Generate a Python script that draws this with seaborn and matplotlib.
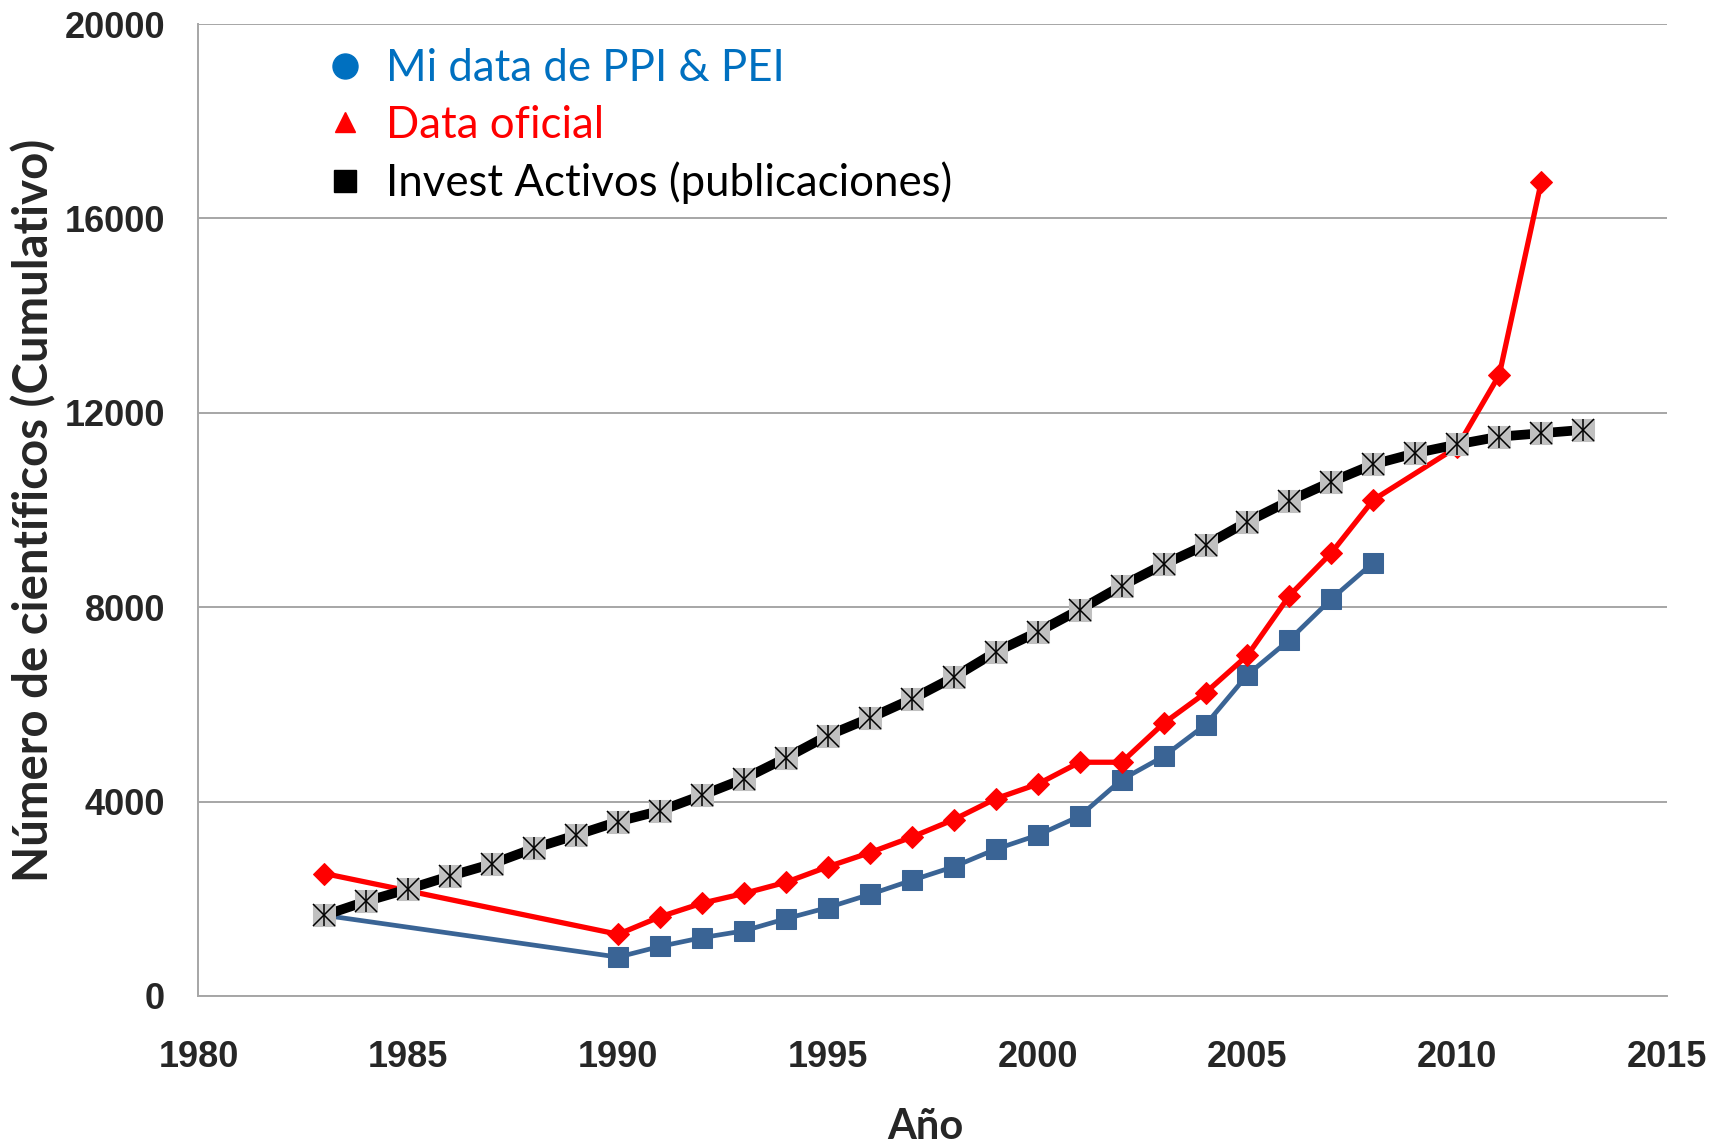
import matplotlib
matplotlib.use("Agg")
import matplotlib.pyplot as plt
from matplotlib.lines import Line2D
from matplotlib.ticker import MultipleLocator
import seaborn as sns

# Invest Activos (publicaciones), 1983-2013
years_activos = list(range(1983, 2014))
activos = [1660, 1950, 2200, 2470, 2720, 3040, 3310, 3590, 3810, 4130,
           4470, 4900, 5360, 5720, 6110, 6560, 7080, 7490, 7950, 8440,
           8880, 9280, 9760, 10190, 10580, 10940, 11170, 11350, 11510, 11580,
           11650]

# Data oficial
years_oficial = [1983, 1990, 1991, 1992, 1993, 1994, 1995, 1996, 1997, 1998,
                 1999, 2000, 2001, 2002, 2003, 2004, 2005, 2006, 2007, 2008,
                 2010, 2011, 2012]
oficial = [2520, 1270, 1630, 1910, 2110, 2340, 2660, 2950, 3270, 3630,
           4060, 4360, 4810, 4810, 5610, 6240, 7010, 8240, 9120, 10210,
           11300, 12780, 16750]

# Mi data de PPI & PEI
years_mine = [1983, 1990, 1991, 1992, 1993, 1994, 1995, 1996, 1997, 1998,
              1999, 2000, 2001, 2002, 2003, 2004, 2005, 2006, 2007, 2008]
mine = [1660, 800, 1020, 1200, 1340, 1590, 1820, 2090, 2380, 2660,
        3020, 3310, 3700, 4450, 4930, 5580, 6610, 7330, 8170, 8920]

legend_labels = ["Mi data de PPI & PEI", "Data oficial", "Invest Activos (publicaciones)"]

sns.set_style("white")
plt.rcParams["font.family"] = ["Lato", "DejaVu Sans"]
tick_font = ["Liberation Sans", "DejaVu Sans"]

grey = "#A6A6A6"
blue = "#3A6495"
red = "#FF0000"

fig, ax = plt.subplots(figsize=(17.29, 11.46), dpi=100)
fig.subplots_adjust(left=0.1148, right=0.9642, top=0.979, bottom=0.1309)

sns.lineplot(x=years_mine, y=mine, ax=ax, color=blue, lw=3.4,
             marker="s", markersize=14.5, markerfacecolor=blue,
             markeredgecolor=blue, zorder=3)
sns.lineplot(x=years_oficial, y=oficial, ax=ax, color=red, lw=3.8,
             marker="D", markersize=11, markerfacecolor=red,
             markeredgecolor=red, zorder=4)
sns.lineplot(x=years_activos, y=activos, ax=ax, color="black", lw=7,
             marker="s", markersize=16, markerfacecolor="#C0C0C0",
             markeredgecolor="#C0C0C0", zorder=5)
# star glyph inside the grey squares
ax.plot(years_activos, activos, ls="none", marker="x", markersize=16,
        mew=1.1, color="black", zorder=6)
ax.plot(years_activos, activos, ls="none", marker="|", markersize=16,
        mew=1.1, color="black", zorder=6)

ax.set_xlim(1980, 2015)
ax.set_ylim(0, 20000)
ax.xaxis.set_major_locator(MultipleLocator(5))
ax.xaxis.set_minor_locator(MultipleLocator(1))
ax.yaxis.set_major_locator(MultipleLocator(4000))
ax.yaxis.set_minor_locator(MultipleLocator(1000))

ax.yaxis.grid(True, color=grey, lw=1.4)
ax.xaxis.grid(False)
for side in ["top", "right"]:
    ax.spines[side].set_visible(False)
for side in ["left", "bottom"]:
    ax.spines[side].set_color(grey)
    ax.spines[side].set_linewidth(1.4)

ax.tick_params(axis="both", which="major", direction="inout", color=grey,
               width=1.4, length=18)
ax.tick_params(axis="both", which="minor", direction="in", color=grey,
               width=1.2, length=7)
ax.tick_params(axis="y", which="major", pad=15)
ax.tick_params(axis="x", which="major", pad=23)
ax.tick_params(axis="x", which="minor", length=9)
for lab in ax.get_xticklabels() + ax.get_yticklabels():
    lab.set_family(tick_font)
    lab.set_fontweight("bold")
    lab.set_fontsize(26)

ax.set_xlabel("Año", fontsize=30, fontweight="bold")
ax.set_ylabel("Número de científicos (Cumulativo)", fontsize=34, fontweight="bold")
ax.xaxis.set_label_coords(0.495, -0.115)
ax.yaxis.set_label_coords(-0.097, 0.5)

handles = [
    Line2D([], [], ls="none", marker="o", markersize=18, color="#0070C0"),
    Line2D([], [], ls="none", marker="^", markersize=14, color=red),
    Line2D([], [], ls="none", marker="s", markersize=16, color="black"),
]
ax.legend(handles, legend_labels, loc="upper left", bbox_to_anchor=(0.058, 1.016),
          frameon=False, fontsize=31.5, labelcolor=["#0070C0", red, "black"],
          handlelength=1.0, handletextpad=0.45, labelspacing=0.36)

fig.savefig("out.png", dpi=100)
